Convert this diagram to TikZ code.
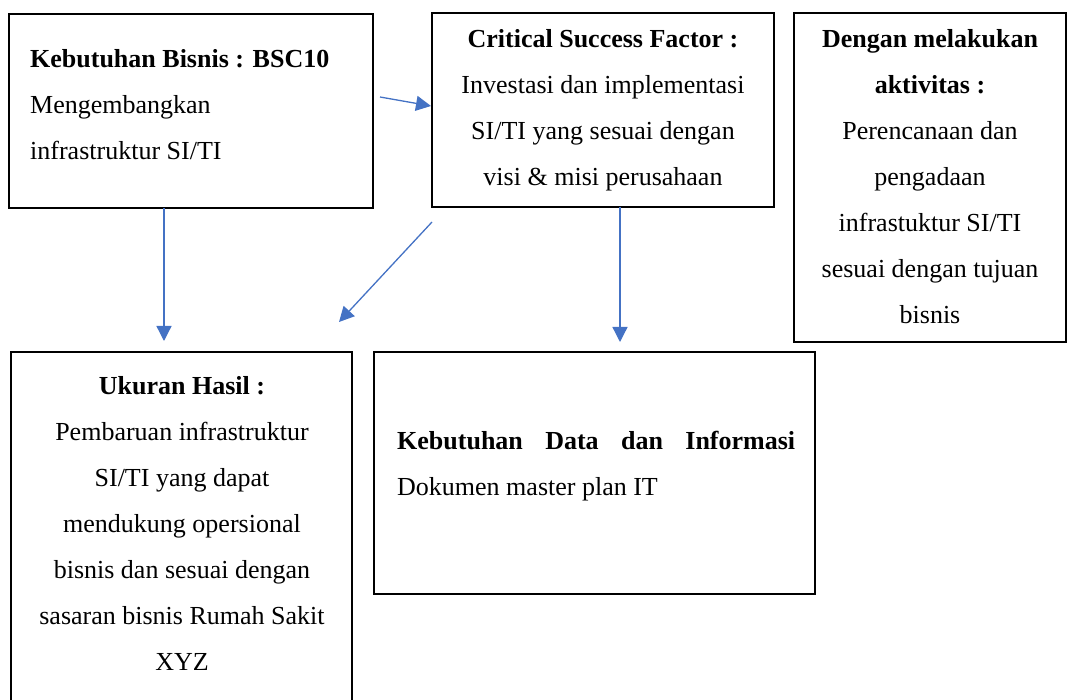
\documentclass[tikz,border=0pt]{standalone}
\usepackage{fontspec}
\setmainfont{Liberation Serif}
\usetikzlibrary{arrows.meta}
\definecolor{flowblue}{HTML}{4472C4}
\begin{document}
\begin{tikzpicture}[x=1pt,y=-1pt,
  frame/.style={draw=black,line width=2.6pt,inner sep=0pt,outer sep=0pt,anchor=north west},
  txt/.style={font=\fontsize{26}{46}\selectfont,inner sep=0pt},
  flow/.style={draw=flowblue,line width=1.3pt,-{Triangle[length=15pt,width=15pt]}}]
\useasboundingbox (0,0) rectangle (1068,700);
\clip (0,0) rectangle (1068,700);

% boxes
\node[frame,minimum width=364,minimum height=194] (b1) at (9,14) {};
\node[frame,minimum width=342,minimum height=194] (b2) at (432,13) {};
\node[frame,minimum width=272,minimum height=329] (b3) at (794,13) {};
\node[frame,minimum width=341,minimum height=360] (b4) at (11,352) {};
\node[frame,minimum width=441,minimum height=242] (b5) at (374,352) {};

% texts
\node[txt,align=left,anchor=west] (t1) at (30,105)
  {\textbf{Kebutuhan Bisnis : BSC10}\\Mengembangkan\\infrastruktur SI/TI};
\node[txt,align=center] (t2) at (603,110)
  {\textbf{Critical Success Factor :}\\Investasi dan implementasi\\SI/TI yang sesuai dengan\\visi \& misi perusahaan};
\node[txt,align=center] (t3) at (930,177)
  {\textbf{Dengan melakukan}\\\textbf{aktivitas :}\\Perencanaan dan\\pengadaan\\infrastuktur SI/TI\\sesuai dengan tujuan\\bisnis};
\node[txt,align=center] (t4) at (182,523)
  {\textbf{Ukuran Hasil :}\\Pembaruan infrastruktur\\SI/TI yang dapat\\mendukung opersional\\bisnis dan sesuai dengan\\sasaran bisnis Rumah Sakit\\XYZ};
\node[txt,align=left,anchor=west] (t5) at (397,466)
  {\hbox to 398pt{\textbf{Kebutuhan}\hfill\textbf{Data}\hfill\textbf{dan}\hfill\textbf{Informasi}}\\Dokumen master plan IT};

% connector end points
\coordinate (a1s) at (380,97);
\coordinate (a1e) at (431,106);
\coordinate (a2s) at (164,208);
\coordinate (a2e) at (164,341);
\coordinate (a3s) at (432,222);
\coordinate (a3e) at (339,322);
\coordinate (a4s) at (620,207);
\coordinate (a4e) at (620,342);

% connectors
\draw[flow] (a1s) -- (a1e);
\draw[flow] (a2s) -- (a2e);
\draw[flow] (a3s) -- (a3e);
\draw[flow] (a4s) -- (a4e);
\end{tikzpicture}
\end{document}
